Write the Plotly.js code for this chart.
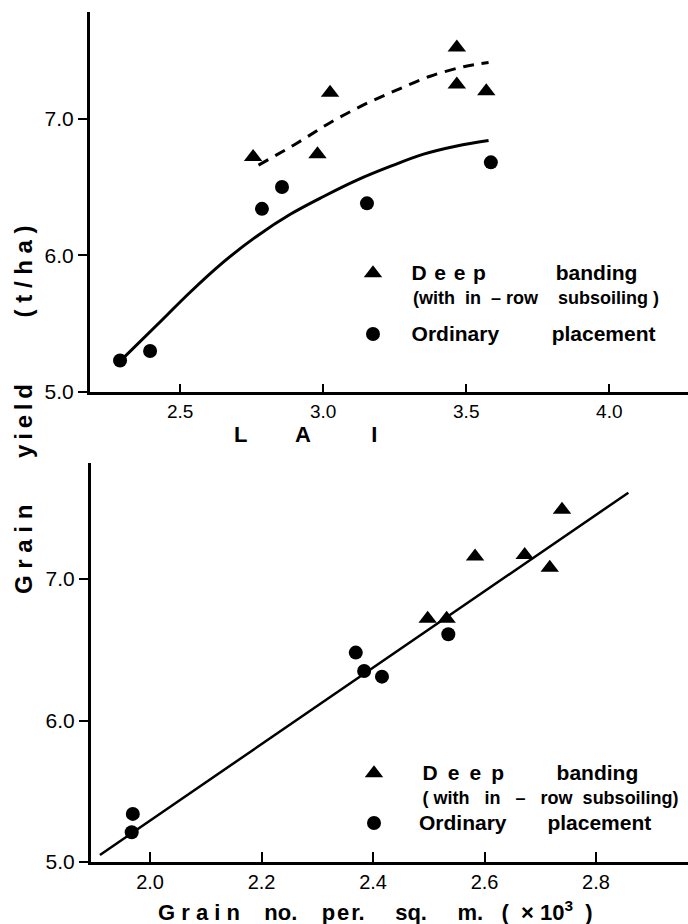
<!DOCTYPE html>
<html><head><meta charset="utf-8">
<script src="https://cdn.plot.ly/plotly-3.0.1.min.js"></script>
<style>body{margin:0;background:#fff}#chart{width:688px;height:924px}</style>
</head><body><div id="chart"></div>
<script>
// ---- Top panel: grain yield (t/ha) vs LAI ----
const laiDeep = [2.755, 2.98, 3.024, 3.467, 3.467, 3.57];
const yieldDeepLai = [6.72, 6.74, 7.19, 7.52, 7.25, 7.20];
const laiOrd = [2.29, 2.395, 2.786, 2.856, 3.153, 3.586];
const yieldOrdLai = [5.23, 5.30, 6.34, 6.50, 6.38, 6.68];
const laiCurveDeepX = [2.774, 2.908, 3.024, 3.141, 3.258, 3.374, 3.491, 3.578];
const laiCurveDeepY = [6.66, 6.82, 6.97, 7.10, 7.21, 7.31, 7.38, 7.41];
const laiCurveOrdX = [2.302, 2.419, 2.535, 2.651, 2.768, 2.885, 3.001, 3.118, 3.234, 3.351, 3.467, 3.578];
const laiCurveOrdY = [5.25, 5.49, 5.73, 5.95, 6.14, 6.30, 6.43, 6.55, 6.65, 6.74, 6.80, 6.84];
const laiTickVals = [2.5, 3.0, 3.5, 4.0];
const laiTickText = ['2.5', '3.0', '3.5', '4.0'];

// ---- Bottom panel: grain yield vs grain number per sq. m (x10^3) ----
const grainDeep = [2.498, 2.532, 2.583, 2.672, 2.717, 2.739];
const yieldDeepGrain = [6.72, 6.72, 7.16, 7.17, 7.08, 7.49];
const grainOrd = [1.967, 1.969, 2.369, 2.384, 2.416, 2.535];
const yieldOrdGrain = [5.21, 5.34, 6.48, 6.35, 6.31, 6.61];
const grainLineX = [1.91, 2.858];
const grainLineY = [5.05, 7.61];
const grainTickVals = [2.0, 2.2, 2.4, 2.6, 2.8];
const grainTickText = ['2.0', '2.2', '2.4', '2.6', '2.8'];

const yTickVals = [5.0, 6.0, 7.0];
const yTickText = ['5.0', '6.0', '7.0'];

const FONT = 'Liberation Sans, Arial, sans-serif';
const HS = '\u200A', TS = '\u2009';
const sp = n => ' '.repeat(n);
const big = s => '<span style="font-size:21px"><b>' + s + '</b></span>';
const small = s => '<span style="font-size:18px"><b>' + s + '</b></span>';
const deepNameTop = sp(3) + TS + big('D ' + HS + 'e ' + HS + 'e ' + HS + 'p' + sp(12) + 'banding') +
  '<br>' + sp(4) + small('(with  in  – row' + sp(4) + 'subsoiling )');
const ordNameTop = sp(3) + TS + big('Ordinary' + sp(9) + 'placement');
const deepNameBot = sp(5) + TS + big('D ' + TS + 'e ' + TS + 'e ' + TS + 'p' + sp(9) + 'banding') +
  '<br>' + sp(5) + TS + small('( with   in   –   row  subsoiling)');
const ordNameBot = sp(5) + big('Ordinary' + sp(7) + 'placement');

const traces = [
  {x: laiDeep, y: yieldDeepLai, xaxis:'x', yaxis:'y', mode:'markers', type:'scatter', name: deepNameTop,
   marker:{symbol:'triangle-up', size:16, color:'#000'}, legend:'legend', legendgroup:'a'},
  {x: laiOrd, y: yieldOrdLai, xaxis:'x', yaxis:'y', mode:'markers', type:'scatter', name: ordNameTop,
   marker:{symbol:'circle', size:14, color:'#000'}, legend:'legend', legendgroup:'b'},
  {x: laiCurveDeepX, y: laiCurveDeepY, xaxis:'x', yaxis:'y', mode:'lines', type:'scatter', showlegend:false,
   line:{color:'#000', width:3, dash:'11px,8px', shape:'spline', smoothing:1}},
  {x: laiCurveOrdX, y: laiCurveOrdY, xaxis:'x', yaxis:'y', mode:'lines', type:'scatter', showlegend:false,
   line:{color:'#000', width:3, shape:'spline', smoothing:1}},
  {x: grainDeep, y: yieldDeepGrain, xaxis:'x2', yaxis:'y2', mode:'markers', type:'scatter', name: deepNameBot,
   marker:{symbol:'triangle-up', size:16, color:'#000'}, legend:'legend2'},
  {x: grainOrd, y: yieldOrdGrain, xaxis:'x2', yaxis:'y2', mode:'markers', type:'scatter', name: ordNameBot,
   marker:{symbol:'circle', size:14, color:'#000'}, legend:'legend2'},
  {x: grainLineX, y: grainLineY, xaxis:'x2', yaxis:'y2', mode:'lines', type:'scatter', showlegend:false,
   line:{color:'#000', width:2.5}}
];

const axBase = {showline:true, linewidth:3, linecolor:'#000', showgrid:false, zeroline:false,
  tickcolor:'#000', tickwidth:2, fixedrange:true};

const legBase = {bgcolor:'rgba(0,0,0,0)', borderwidth:0, valign:'top',
  font:{family:FONT, size:18, color:'#000'}, xanchor:'left', yanchor:'top', itemclick:false, itemdoubleclick:false};

const layout = {
  width:688, height:924,
  margin:{l:0, r:0, t:0, b:0},
  paper_bgcolor:'#fff', plot_bgcolor:'rgba(0,0,0,0)',
  font:{family:FONT, color:'#000'},
  showlegend:true,
  xaxis: Object.assign({}, axBase, {domain:[90/688, 1], range:[2.185, 4.275], anchor:'y',
    ticks:'inside', ticklen:8, tickvals:laiTickVals, ticktext:laiTickText, tickfont:{family:FONT, size:19}}),
  yaxis: Object.assign({}, axBase, {domain:[1-392/924, 1-12/924], range:[5.0, 7.78], anchor:'x',
    ticks:'outside', ticklen:9, tickvals:yTickVals, ticktext:yTickText, tickfont:{family:FONT, size:21}}),
  xaxis2: Object.assign({}, axBase, {domain:[91/688, 1], range:[1.894, 2.965], anchor:'y2',
    ticks:'inside', ticklen:10, tickvals:grainTickVals, ticktext:grainTickText, tickfont:{family:FONT, size:20}}),
  yaxis2: Object.assign({}, axBase, {domain:[1-862/924, 1-463/924], range:[5.0, 7.82], anchor:'x2',
    ticks:'outside', ticklen:9, tickvals:yTickVals, ticktext:yTickText, tickfont:{family:FONT, size:21}}),
  legend: Object.assign({}, legBase, {x:353/688, y:1-255/924, traceorder:'grouped', tracegroupgap:11}),
  legend2: Object.assign({}, legBase, {x:354/688, y:1-755/924, traceorder:'normal'}),
  annotations: [
    {xref:'paper', yref:'paper', x:23/688, y:1-410/924, xanchor:'center', yanchor:'middle', showarrow:false, textangle:-90,
     text:'<b>G r a i n' + sp(7) + 'y' + TS + 'i' + TS + 'e' + TS + 'l' + TS + 'd' + sp(10) + '( t / h a )</b>',
     font:{family:FONT, size:24, color:'#000'}},
    {xref:'paper', yref:'paper', x:305/688, y:1-435/924, xanchor:'center', yanchor:'middle', showarrow:false,
     text:'<b>L        A          I</b>', font:{family:FONT, size:22, color:'#000'}},
    {xref:'paper', yref:'paper', x:375/688, y:1-911/924, xanchor:'center', yanchor:'middle', showarrow:false,
     text:'<b>G r a i n' + sp(4) + 'no.' + sp(4) + 'p' + HS + 'e' + HS + 'r.' + sp(5) + 'sq.' + sp(5) + 'm.' + sp(3) + '(  × 10<sup>3</sup>  )</b>',
     font:{family:FONT, size:22, color:'#000'}}
  ]
};

Plotly.newPlot('chart', traces, layout, {displayModeBar:false, staticPlot:true});
</script>
</body></html>
